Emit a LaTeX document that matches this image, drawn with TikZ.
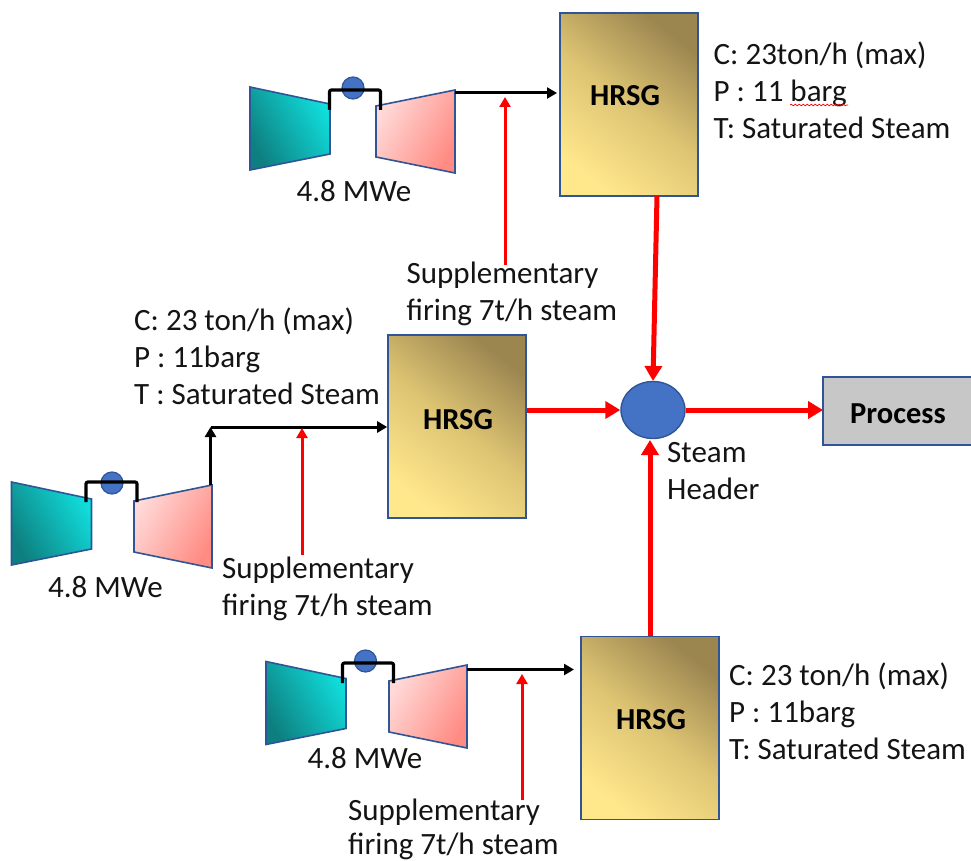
\documentclass[tikz,border=0pt]{standalone}
\usepackage{fontspec}
\setmainfont{Carlito}
\usetikzlibrary{arrows.meta,decorations.pathmorphing,calc,shapes.geometric}
\definecolor{edgeblue}{HTML}{2F5597}
\definecolor{fillblue}{HTML}{4472C4}
\definecolor{arrowred}{HTML}{FF0000}
\definecolor{hrsglight}{HTML}{FFE78C}
\definecolor{hrsgmid}{HTML}{DDC473}
\definecolor{hrsgdark}{HTML}{9C8650}
\definecolor{tealdark}{HTML}{0E7F80}
\definecolor{tealmid}{HTML}{0FBDBD}
\definecolor{teallight}{HTML}{10DEDC}
\definecolor{pinkdark}{HTML}{FF8C84}
\definecolor{pinkmid}{HTML}{FFBAB5}
\definecolor{pinklight}{HTML}{FFDAD8}
\tikzset{
  txt/.style={font=\fontsize{31}{37}\selectfont,text=black!92,inner sep=0pt,align=left},
  boldtxt/.style={font=\fontsize{30.5}{37}\selectfont\bfseries,text=black,inner sep=0pt},
  hrsgbox/.style={draw=edgeblue,line width=1.6pt,minimum width=138pt,minimum height=183pt,inner sep=0pt,
    bottom color=hrsglight,top color=hrsgdark,middle color=hrsgmid,shading angle=-38},
  headerdot/.style={ellipse,draw=edgeblue,line width=1.4pt,fill=fillblue,minimum width=64pt,minimum height=57pt,inner sep=0pt},
  shaftdot/.style={circle,draw=edgeblue,line width=1.2pt,fill=fillblue,minimum size=22pt,inner sep=0pt},
  thick red/.style={draw=arrowred,line width=5pt,-{Triangle[length=15pt,width=17pt]}},
  thin red/.style={draw=arrowred,line width=3pt,-{Triangle[length=10pt,width=11pt]}},
  blackline/.style={draw=black,line width=3pt,-{Triangle[length=10pt,width=11pt]}},
  compshade/.style={draw=edgeblue,line width=1.6pt,bottom color=tealdark,middle color=tealmid,top color=teallight,shading angle=-60},
  turbshade/.style={draw=edgeblue,line width=1.6pt,bottom color=pinkdark,middle color=pinkmid,top color=pinklight,shading angle=60},
}
% name; compressor top-left x,y; turbine top-left x,y; turbine width; dot "x,y"; bracket left, top
\newcommand{\gasturbine}[9]{%
  \shadedraw[compshade] (#2,#3) -- ++(80,17) -- ++(0,50) -- ++(-80,16) -- cycle;
  \shadedraw[turbshade] (#4,#5) -- ++(#6,-16) -- ++(0,83) -- ++(-#6,-16) -- cycle;
  \node[shaftdot] (#1dot) at (#7) {};
  \draw[line width=3.2pt,rounded corners=2pt] (#8,#9+20) -- (#8,#9) -- (#8+51,#9) -- (#8+51,#9+20);
  \coordinate (#1out) at (#4+#6,#5-16);
}
\begin{document}
\begin{tikzpicture}[x=1pt,y=-1pt]
\useasboundingbox (0,0) rectangle (971,861);
% HRSGs
\node[hrsgbox] (hA) at (629,104.5) {};
\node[hrsgbox] (hB) at (457,426.5) {};
\node[hrsgbox] (hC) at (650,728) {};
\node[boldtxt] at (625,96) {HRSG};
\node[boldtxt] at (458,420) {HRSG};
\node[boldtxt] at (651,720) {HRSG};
% header + process
\node[headerdot] (hdr) at (653,410) {};
\fill[black!22] (823,377) rectangle (972,445);
\draw[edgeblue,line width=1.8pt] (972,377) -- (823,377) -- (823,445) -- (972,445);
\node[boldtxt] (proc) at (898,414) {Process};
\coordinate (procw) at (823,410);
% turbines
\gasturbine{a}{250}{87}{376}{106}{79}{353,88}{329.5}{90}
\gasturbine{b}{11.5}{482}{134}{501}{78}{112,483}{86}{482}
\gasturbine{c}{266}{661.5}{389}{681}{78}{365.5,661}{342.5}{663}
\node[txt] at (354,191) {4.8 MWe};
\node[txt] at (105.5,587) {4.8 MWe};
\node[txt] at (365,758) {4.8 MWe};
% feed arrows
\coordinate (ain) at (557,93);
\coordinate (bup) at (210.5,427);
\coordinate (cin) at (574,669.5);
\draw[blackline] (aout |- ain) -- (ain);
\draw[blackline] (bup |- bout) -- (bup);
\draw[blackline] (bup) -- (bup -| hB.west);
\draw[blackline] (cout |- cin) -- (cin);
% supplementary firing
\coordinate (sa) at (505,265);
\coordinate (sb) at (302,555);
\coordinate (sc) at (522,800);
\draw[thin red] (sa) -- (505,97);
\draw[thin red] (sb) -- (302,428);
\draw[thin red] (sc) -- (522,674);
\node[txt,anchor=base west] (la) at (406.5,320) {Supplementary\\firing 7t/h steam};
\node[txt,anchor=base west] (lb) at (222,615) {Supplementary\\firing 7t/h steam};
\node[txt,anchor=base west] (lc) at (348,854.5) {Supplementary\\[-3pt]firing 7t/h steam};
% steam lines
\draw[thick red] (657,196) -- (653,381);
\draw[thick red] (hB.east |- hdr.west) -- (hdr.west);
\draw[thick red] (hdr.east) -- (procw);
\draw[thick red] (650,636) -- (650,440);
% data
\node[txt,anchor=base west] (da) at (713.5,139) {C: 23ton/h (max)\\P : 11 barg\\T: Saturated Steam};
\draw[red,line width=.7pt,decorate,decoration={snake,amplitude=.8pt,segment length=4pt}] (790,105) -- (848,105);
\node[txt,anchor=base west] (db) at (134,404) {C: 23 ton/h (max)\\P : 11barg\\T : Saturated Steam};
\node[txt,anchor=base west] (dc) at (729,759) {C: 23 ton/h (max)\\P : 11barg\\T: Saturated Steam};
\node[txt,anchor=base west] (sh) at (667,499) {Steam\\Header};
\end{tikzpicture}
\end{document}
